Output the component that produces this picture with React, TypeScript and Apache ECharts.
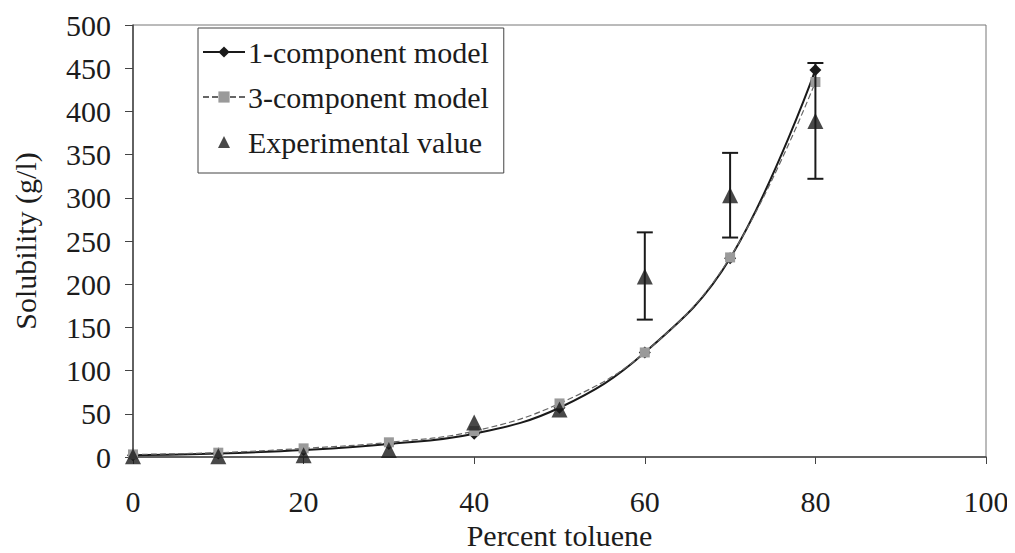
import React, { useEffect, useRef } from "react";
import * as echarts from "echarts";

const percentToluene = [0, 10, 20, 30, 40, 50, 60, 70, 80];
const oneComponent = [2, 4, 8, 15, 27, 57, 121, 230, 448];
const threeComponent = [3, 5, 10, 17, 30, 62, 121, 231, 434];
const experimental = [1, 1, 2, 8, 40, 55, 209, 303, 389];
const errorX = [60, 70, 80];
const errorLow = [159, 254, 322];
const errorHigh = [260, 352, 456];

const FONT = "Liberation Serif";
const FS = 30;
const TXT = "#1c1c1c";

export default function App() {
  const ref = useRef<HTMLDivElement>(null);
  useEffect(() => {
    const chart = echarts.init(ref.current!, undefined, { renderer: "svg" });
    const errData = errorX.map((x, i) => [x, errorLow[i], errorHigh[i]]);
    chart.setOption({
      animation: false,
      backgroundColor: "#fff",
      grid: {
        left: 133,
        right: 29,
        top: 25,
        bottom: 96,
        show: true,
        borderColor: "#777",
        borderWidth: 1,
        outerBoundsMode: "none",
        containLabel: false,
      },
      legend: {
        orient: "vertical",
        left: 198,
        top: 28,
        padding: [7, 15, 14, 4],
        itemGap: 11,
        itemWidth: 42,
        itemHeight: 14,
        borderColor: "#444",
        borderWidth: 1,
        backgroundColor: "#fff",
        textStyle: { fontFamily: FONT, fontSize: FS, color: TXT, lineHeight: 34, padding: [0, 0, 0, -2] },
        data: [
          { name: "1-component model" },
          { name: "3-component model" },
          { name: "Experimental value", icon: "path://M0,0M42,14M15,13L21,1L27,13Z" },
        ],
      },
      xAxis: {
        type: "value",
        min: 0,
        max: 100,
        interval: 20,
        name: "Percent toluene",
        nameLocation: "middle",
        nameGap: 62,
        nameTextStyle: { fontFamily: FONT, fontSize: FS, color: TXT },
        axisLine: { lineStyle: { color: "#444", width: 1.5 } },
        axisTick: { show: true, length: 7, lineStyle: { color: "#444" } },
        axisLabel: { fontFamily: FONT, fontSize: FS, color: TXT, margin: 29 },
        splitLine: { show: false },
      },
      yAxis: {
        type: "value",
        min: 0,
        max: 500,
        interval: 50,
        name: "Solubility (g/l)",
        nameLocation: "middle",
        nameGap: 93,
        nameTextStyle: { fontFamily: FONT, fontSize: FS, color: TXT },
        axisLine: { show: true, lineStyle: { color: "#444", width: 1.5 } },
        axisTick: { show: true, length: 8, lineStyle: { color: "#444" } },
        axisLabel: { fontFamily: FONT, fontSize: FS, color: TXT, margin: 22 },
        splitLine: { show: false },
      },
      series: [
        {
          name: "1-component model",
          type: "line",
          smooth: 0.4,
          data: percentToluene.map((x, i) => [x, oneComponent[i]]),
          symbol: "diamond",
          symbolSize: 12,
          itemStyle: { color: "#1a1a1a" },
          lineStyle: { color: "#1a1a1a", width: 2 },
          z: 3,
        },
        {
          name: "3-component model",
          type: "line",
          smooth: 0.4,
          data: percentToluene.map((x, i) => [x, threeComponent[i]]),
          symbol: "rect",
          symbolSize: 10,
          itemStyle: { color: "#9a9a9a" },
          lineStyle: { color: "#666", width: 1.2, type: [6, 3] },
          z: 4,
        },
        {
          name: "errorbars",
          type: "custom",
          data: errData,
          z: 5,
          renderItem: (params: any, api: any) => {
            const x = api.value(0);
            const lo = api.coord([x, api.value(1)]);
            const hi = api.coord([x, api.value(2)]);
            const hw = 8;
            const style = { stroke: "#1a1a1a", lineWidth: 2 };
            return {
              type: "group",
              children: [
                { type: "line", shape: { x1: lo[0], y1: lo[1], x2: hi[0], y2: hi[1] }, style },
                { type: "line", shape: { x1: lo[0] - hw, y1: lo[1], x2: lo[0] + hw, y2: lo[1] }, style },
                { type: "line", shape: { x1: hi[0] - hw, y1: hi[1], x2: hi[0] + hw, y2: hi[1] }, style },
              ],
            };
          },
        },
        {
          name: "Experimental value",
          type: "scatter",
          data: percentToluene.map((x, i) => [x, experimental[i]]),
          symbol: "triangle",
          symbolSize: 16,
          itemStyle: { color: "#1a1a1a" },
          z: 6,
        },
      ],
    });
    return () => chart.dispose();
  }, []);
  return <div ref={ref} style={{ width: 1015, height: 553, marginLeft: -8, marginTop: -8 }} />;
}
